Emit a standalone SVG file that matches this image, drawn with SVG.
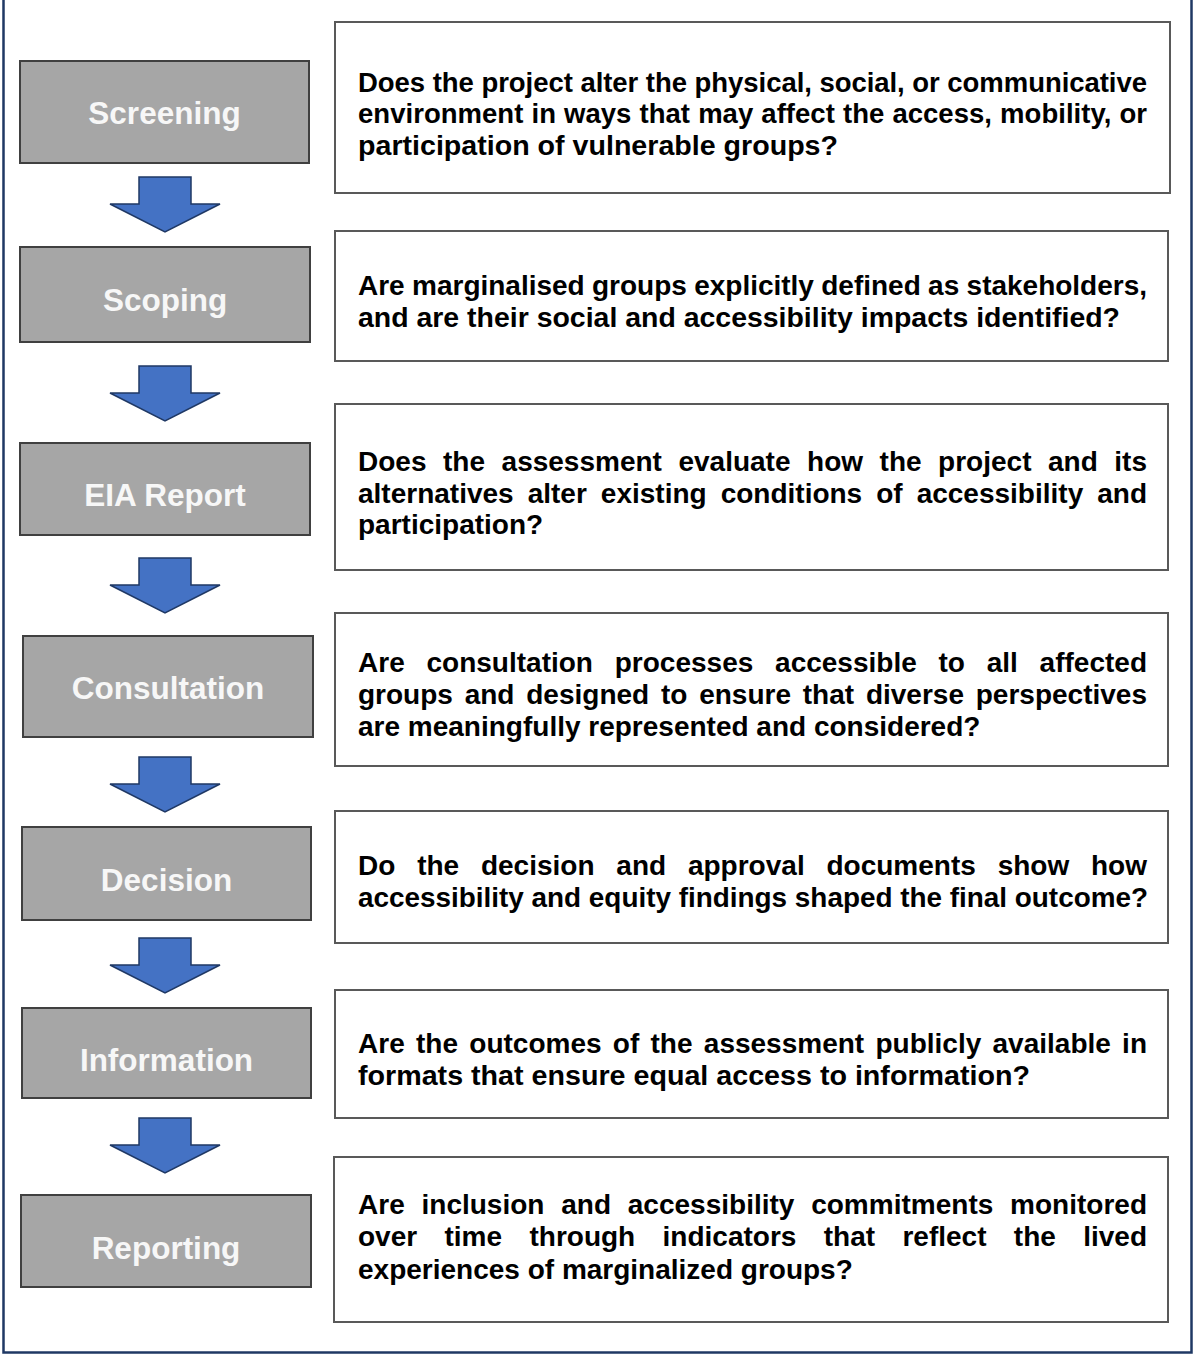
<svg xmlns="http://www.w3.org/2000/svg" width="1194" height="1355" viewBox="0 0 1194 1355">
  <style>
    .frame { fill: none; stroke: #1f3864; stroke-width: 2.5; }
    .stage rect { fill: #a6a6a6; stroke: #404040; stroke-width: 2; }
    .stage text { font-family: "Liberation Sans", Arial, sans-serif; font-weight: bold; font-size: 31.5px; fill: #f7f7f7; text-anchor: middle; }
    .question rect { fill: #ffffff; stroke: #595959; stroke-width: 2; }
    .question text { font-family: "Liberation Sans", Arial, sans-serif; font-weight: bold; font-size: 28px; fill: #000000; }
    .question text.tight { font-size: 27.5px; }
    .arrow { fill: #4472c4; stroke: #1f3864; stroke-width: 1.5; stroke-linejoin: miter; }
  </style>
  <defs>
    <!-- block arrow pointing down, origin at top centre of the shaft -->
    <path id="down-arrow" class="arrow" d="M-26,0 H26 V27 H55 L0,55 L-55,27 H-26 Z"/>
  </defs>

  <rect width="1194" height="1355" fill="#ffffff"/>
  <rect class="frame" x="3.5" y="-10" width="1188" height="1362.5"/>

  <!-- process stages -->
  <g id="stage-screening" class="stage">
    <rect x="20" y="61" width="289" height="102"/>
    <text x="164.5" y="124">Screening</text>
  </g>
  <g id="stage-scoping" class="stage">
    <rect x="20" y="247" width="290" height="95"/>
    <text x="165" y="311">Scoping</text>
  </g>
  <g id="stage-eia-report" class="stage">
    <rect x="20" y="443" width="290" height="92"/>
    <text x="165" y="506">EIA Report</text>
  </g>
  <g id="stage-consultation" class="stage">
    <rect x="23" y="636" width="290" height="101"/>
    <text x="168" y="699">Consultation</text>
  </g>
  <g id="stage-decision" class="stage">
    <rect x="22" y="827" width="289" height="93"/>
    <text x="166.5" y="891">Decision</text>
  </g>
  <g id="stage-information" class="stage">
    <rect x="22" y="1008" width="289" height="90"/>
    <text x="166.5" y="1071">Information</text>
  </g>
  <g id="stage-reporting" class="stage">
    <rect x="21" y="1195" width="290" height="92"/>
    <text x="166" y="1259">Reporting</text>
  </g>

  <!-- guiding questions; full lines are justified to the 358..1147 column -->
  <g id="question-screening" class="question">
    <rect x="335" y="22" width="835" height="171"/>
    <text class="tight" x="358" y="92" textLength="789" lengthAdjust="spacing">Does the project alter the physical, social, or communicative</text>
    <text class="tight" x="358" y="123" word-spacing="0.4" textLength="789" lengthAdjust="spacing">environment in ways that may affect the access, mobility, or</text>
    <text x="358" y="155" textLength="480" lengthAdjust="spacingAndGlyphs">participation of vulnerable groups?</text>
  </g>
  <g id="question-scoping" class="question">
    <rect x="335" y="231" width="833" height="130"/>
    <text x="358" y="295" word-spacing="-0.4" textLength="789" lengthAdjust="spacing">Are marginalised groups explicitly defined as stakeholders,</text>
    <text x="358" y="327" textLength="762" lengthAdjust="spacingAndGlyphs">and are their social and accessibility impacts identified?</text>
  </g>
  <g id="question-eia-report" class="question">
    <rect x="335" y="404" width="833" height="166"/>
    <text x="358" y="471" word-spacing="8.76" textLength="789" lengthAdjust="spacing">Does the assessment evaluate how the project and its</text>
    <text x="358" y="503" word-spacing="6.23" textLength="789" lengthAdjust="spacing">alternatives alter existing conditions of accessibility and</text>
    <text x="358" y="534">participation?</text>
  </g>
  <g id="question-consultation" class="question">
    <rect x="335" y="613" width="833" height="153"/>
    <text x="358" y="672" word-spacing="14" textLength="789" lengthAdjust="spacing">Are consultation processes accessible to all affected</text>
    <text x="358" y="704" word-spacing="4" textLength="789" lengthAdjust="spacing">groups and designed to ensure that diverse perspectives</text>
    <text x="358" y="736">are meaningfully represented and considered?</text>
  </g>
  <g id="question-decision" class="question">
    <rect x="335" y="811" width="833" height="132"/>
    <text x="358" y="875" word-spacing="14" textLength="789" lengthAdjust="spacing">Do the decision and approval documents show how</text>
    <text x="358" y="907" textLength="790" lengthAdjust="spacingAndGlyphs">accessibility and equity findings shaped the final outcome?</text>
  </g>
  <g id="question-information" class="question">
    <rect x="335" y="990" width="833" height="128"/>
    <text x="358" y="1053" word-spacing="3.5" textLength="789" lengthAdjust="spacing">Are the outcomes of the assessment publicly available in</text>
    <text x="358" y="1085" textLength="672" lengthAdjust="spacingAndGlyphs">formats that ensure equal access to information?</text>
  </g>
  <g id="question-reporting" class="question">
    <rect x="334" y="1157" width="834" height="165"/>
    <text x="358" y="1214" word-spacing="9" textLength="789" lengthAdjust="spacing">Are inclusion and accessibility commitments monitored</text>
    <text x="358" y="1246" word-spacing="19.6" textLength="789" lengthAdjust="spacing">over time through indicators that reflect the lived</text>
    <text x="358" y="1279">experiences of marginalized groups?</text>
  </g>

  <!-- flow arrows between stages -->
  <g id="connectors">
    <use href="#down-arrow" x="165" y="177"/>
    <use href="#down-arrow" x="165" y="366"/>
    <use href="#down-arrow" x="165" y="558"/>
    <use href="#down-arrow" x="165" y="757"/>
    <use href="#down-arrow" x="165" y="938"/>
    <use href="#down-arrow" x="165" y="1118"/>
  </g>
</svg>
